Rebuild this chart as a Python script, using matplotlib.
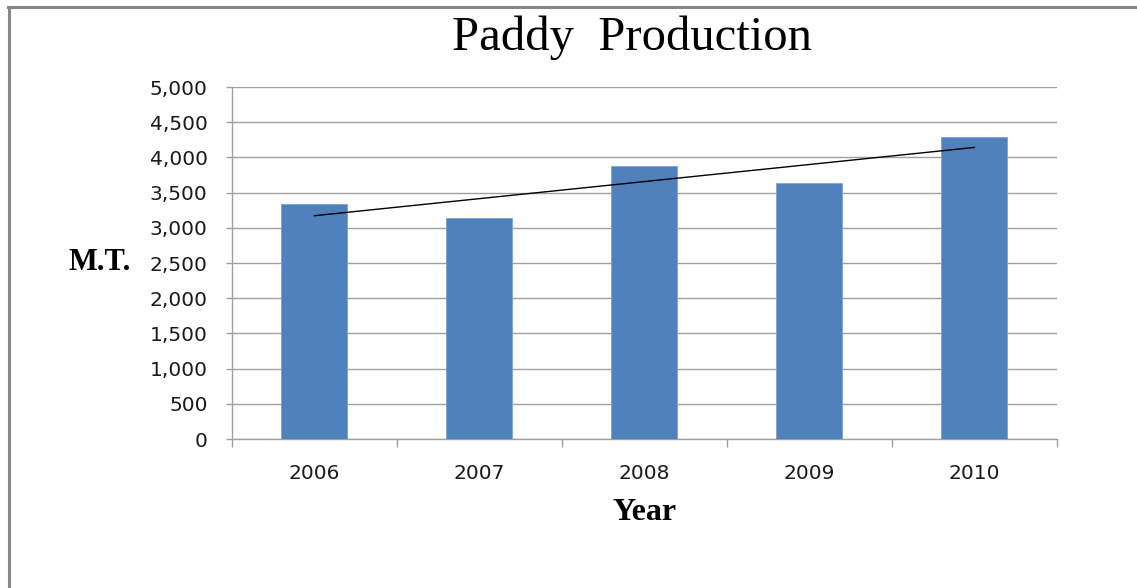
import numpy as np
import matplotlib
matplotlib.use("Agg")
import matplotlib.pyplot as plt
from matplotlib.lines import Line2D
from matplotlib.ticker import FuncFormatter

# Paddy production by year (M.T.)
years = ["2006", "2007", "2008", "2009", "2010"]
production = [3335, 3135, 3880, 3640, 4295]
y_ticks = [0, 500, 1000, 1500, 2000, 2500, 3000, 3500, 4000, 4500, 5000]

BAR_COLOR = "#4F81BD"
GRID_COLOR = "#A0A0A0"
FRAME_COLOR = "#878787"

fig = plt.figure(figsize=(11.37, 5.88), dpi=100)
ax = fig.add_axes([0.2040, 0.2534, 0.7256, 0.5986])

x = np.arange(len(years))
ax.bar(x, production, width=0.4, color=BAR_COLOR, edgecolor="#7EA3D0",
       linewidth=0.6, zorder=3)

# Linear trendline fitted to the yearly values
slope, intercept = np.polyfit(x, production, 1)
ax.plot(x, slope * x + intercept, color="black", linewidth=1.0, zorder=4)

ax.set_xlim(-0.5, len(years) - 0.5)
ax.set_ylim(y_ticks[0], y_ticks[-1])
ax.set_yticks(y_ticks)
ax.yaxis.set_major_formatter(FuncFormatter(lambda v, _: f"{int(v):,}"))
ax.grid(axis="y", color=GRID_COLOR, linewidth=1.0, zorder=0)
ax.set_axisbelow(True)

# Category labels at bar centres, tick marks at category boundaries
ax.set_xticks(x)
ax.set_xticklabels(years)
ax.set_xticks(np.arange(-0.5, len(years)), minor=True)
ax.tick_params(axis="x", which="major", length=0, pad=18,
               labelsize=14.5, labelcolor="#1a1a1a")
ax.tick_params(axis="x", which="minor", length=6, width=1.0,
               color=GRID_COLOR, direction="out")
ax.tick_params(axis="y", length=4.5, width=1.0, color=GRID_COLOR,
               pad=13, labelsize=14.5, labelcolor="#1a1a1a")

for side in ("top", "right"):
    ax.spines[side].set_visible(False)
for side in ("left", "bottom"):
    ax.spines[side].set_color(GRID_COLOR)
    ax.spines[side].set_linewidth(1.0)

serif = ["Liberation Serif", "DejaVu Serif"]

fig.text(632 / 1137, 1 - 50 / 588, "Paddy  Production", ha="center",
         va="baseline", fontsize=35, family=serif, color="black")
fig.text(100 / 1137, 1 - 263 / 588, "M.T.", ha="center", va="center",
         fontsize=22, fontweight="bold", family=serif, color="black")
fig.text(645 / 1137, 1 - 512 / 588, "Year", ha="center", va="center",
         fontsize=23, fontweight="bold", family=serif, color="black")

# Chart frame: top and left edges
fig.add_artist(Line2D([8 / 1137, 1.0], [1 - 7 / 588, 1 - 7 / 588],
                      transform=fig.transFigure, color=FRAME_COLOR,
                      linewidth=2.2))
fig.add_artist(Line2D([8.5 / 1137, 8.5 / 1137], [0.0, 1 - 7 / 588],
                      transform=fig.transFigure, color=FRAME_COLOR,
                      linewidth=2.2))

fig.savefig("out.png", dpi=100, facecolor="white")
